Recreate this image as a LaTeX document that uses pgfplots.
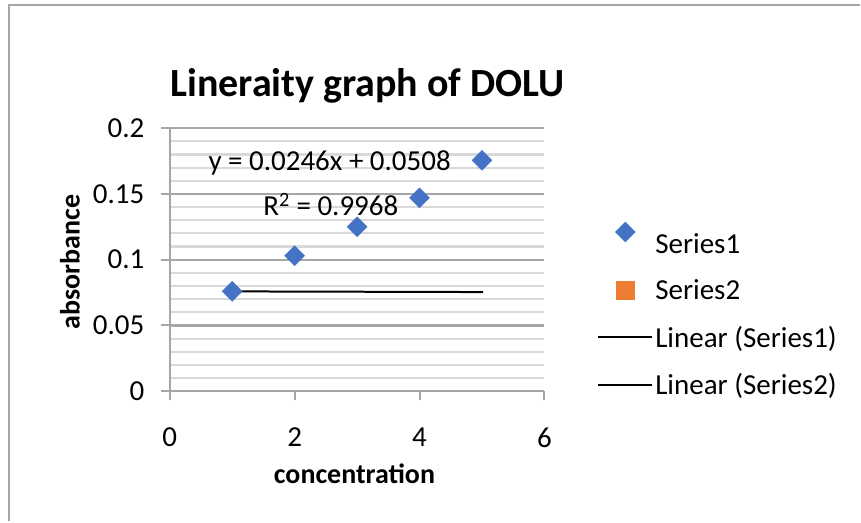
\documentclass[border=0pt]{standalone}
\usepackage{fontspec}
\setmainfont{Carlito}
\usepackage{pgfplots}
\pgfplotsset{compat=1.18}
\definecolor{serA}{HTML}{4472C4}
\definecolor{serB}{HTML}{ED7D31}
\definecolor{majgrid}{HTML}{A6A6A6}
\definecolor{mingrid}{HTML}{D9D9D9}
\begin{document}
\begin{tikzpicture}[x=1pt,y=1pt]
\path (0,0) rectangle (861,522);
\draw[majgrid, line width=2pt] (9,0) -- (9,517) -- (861,517);
\begin{axis}[
  at={(170pt,130.3pt)}, anchor=south west,
  scale only axis, width=375pt, height=263.4pt,
  xmin=0, xmax=6, ymin=0, ymax=0.2,
  xtick={0,2,4,6},
  ytick={0,0.05,0.1,0.15,0.2},
  minor ytick={0.01,0.02,0.03,0.04,0.06,0.07,0.08,0.09,0.11,0.12,0.13,0.14,0.16,0.17,0.18,0.19},
  ymajorgrids, yminorgrids,
  axis x line*=bottom, axis y line*=left,
  axis line style={majgrid, line width=2pt},
  tick align=outside, major tick length=9pt, minor tick length=0pt,
  tick style={majgrid, line width=2pt},
  major grid style={majgrid, line width=2.2pt},
  minor grid style={mingrid, line width=2.2pt},
  tick label style={font=\fontsize{29}{30}\selectfont},
  xticklabel style={yshift=-24pt},
  yticklabel style={xshift=-13pt},
  /pgf/number format/assume math mode=true,
  yticklabel style={/pgf/number format/fixed, /pgf/number format/precision=2},
  title={Lineraity graph of DOLU},
  title style={font=\fontsize{40}{46}\selectfont\bfseries, at={(axis description cs:0.528,1.138)}, anchor=center},
  xlabel={concentration},
  xlabel style={font=\fontsize{28}{30}\selectfont\bfseries, at={(axis description cs:0.493,-0.3125)}, anchor=center},
  ylabel={absorbance},
  ylabel style={font=\fontsize{28}{30}\selectfont\bfseries, at={(axis description cs:-0.267,0.492)}, anchor=center, rotate=0},
  legend style={at={(1.141,0.644)}, anchor=north west, draw=none, fill=none,
    font=\fontsize{29}{30}\selectfont, row sep=21pt, inner sep=0pt, cells={anchor=west}},
  legend image code/.code={\draw[mark repeat=2,mark phase=2] plot coordinates {(0pt,0pt)(27pt,0pt)(54pt,0pt)};},
]
\addplot[only marks, mark=square*, mark size=7.07pt, mark options={rotate=45, fill=serA, draw=serA},
  legend image post style={yshift=12pt}]
  coordinates {(1,0.076) (2,0.103) (3,0.125) (4,0.147) (5,0.1755)};
\addlegendentry{Series1}
\addlegendimage{only marks, mark=square*, mark size=9pt, mark options={fill=serB, draw=serB}}
\addlegendentry{Series2}
\addplot[black, line width=2pt, mark=none] coordinates {(1.01,0.0759) (5.02,0.0754)};
\addlegendentry{Linear (Series1)}
\addlegendimage{black, line width=2pt, mark=none}
\addlegendentry{Linear (Series2)}
\node[font=\fontsize{29}{30}\selectfont] at (axis cs:2.56,0.1737) {y = 0.0246x + 0.0508};
\node[font=\fontsize{29}{30}\selectfont] at (axis cs:2.58,0.1418) {R\textsuperscript{2} = 0.9968};
\end{axis}
\end{tikzpicture}
\end{document}
